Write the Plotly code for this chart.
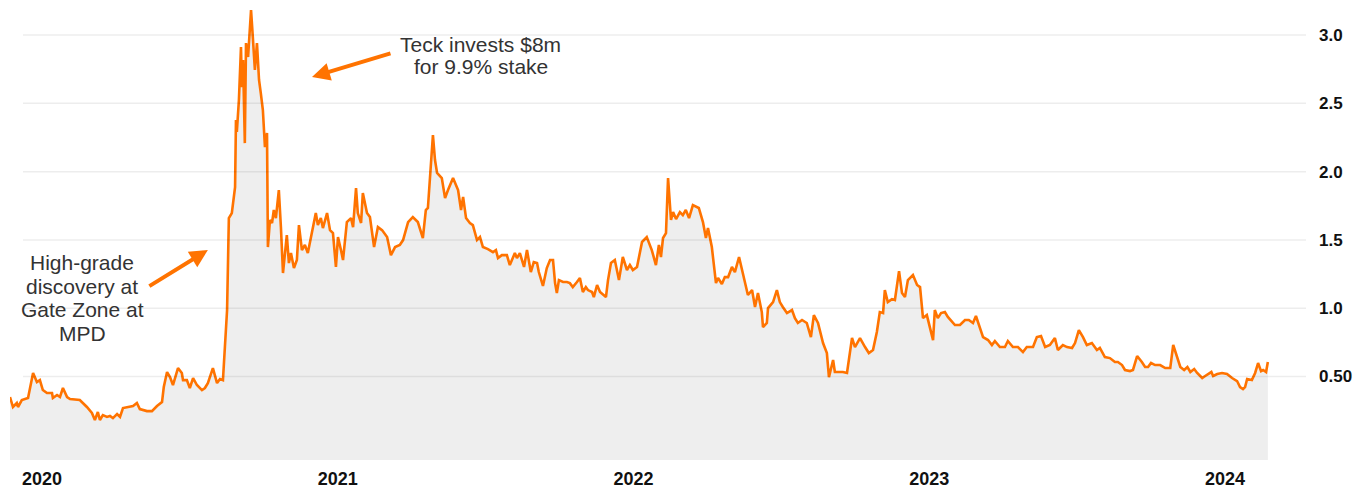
import pandas as pd
import plotly.graph_objects as go

# share price (decimal year, price)
year_pos = [
    2019.892, 2019.902, 2019.915, 2019.919, 2019.932, 2019.953, 2019.970, 2019.983, 2019.993, 2020.003,
    2020.017, 2020.034, 2020.037, 2020.051, 2020.061, 2020.071, 2020.085, 2020.095, 2020.128, 2020.152,
    2020.169, 2020.179, 2020.189, 2020.196, 2020.206, 2020.220, 2020.230, 2020.240, 2020.254, 2020.264,
    2020.274, 2020.291, 2020.308, 2020.321, 2020.331, 2020.355, 2020.372, 2020.389, 2020.406, 2020.412,
    2020.423, 2020.433, 2020.443, 2020.460, 2020.473, 2020.477, 2020.490, 2020.500, 2020.511, 2020.524,
    2020.541, 2020.551, 2020.561, 2020.578, 2020.592, 2020.602, 2020.612, 2020.626, 2020.629, 2020.632,
    2020.642, 2020.653, 2020.656, 2020.659, 2020.666, 2020.673, 2020.676, 2020.680, 2020.686, 2020.690,
    2020.697, 2020.707, 2020.713, 2020.720, 2020.727, 2020.734, 2020.740, 2020.747, 2020.754, 2020.761,
    2020.764, 2020.771, 2020.778, 2020.784, 2020.791, 2020.801, 2020.808, 2020.815, 2020.828, 2020.835,
    2020.842, 2020.852, 2020.862, 2020.869, 2020.879, 2020.889, 2020.899, 2020.916, 2020.926, 2020.933,
    2020.943, 2020.950, 2020.964, 2020.974, 2020.984, 2020.994, 2021.001, 2021.011, 2021.018, 2021.031,
    2021.045, 2021.052, 2021.062, 2021.068, 2021.079, 2021.085, 2021.099, 2021.109, 2021.116, 2021.123,
    2021.136, 2021.150, 2021.167, 2021.180, 2021.194, 2021.210, 2021.221, 2021.238, 2021.254, 2021.271,
    2021.288, 2021.298, 2021.305, 2021.312, 2021.322, 2021.329, 2021.336, 2021.352, 2021.363, 2021.373,
    2021.390, 2021.407, 2021.417, 2021.424, 2021.434, 2021.447, 2021.457, 2021.471, 2021.481, 2021.491,
    2021.508, 2021.525, 2021.535, 2021.542, 2021.555, 2021.572, 2021.582, 2021.599, 2021.606, 2021.616,
    2021.630, 2021.640, 2021.653, 2021.663, 2021.674, 2021.680, 2021.694, 2021.707, 2021.718, 2021.728,
    2021.735, 2021.741, 2021.748, 2021.762, 2021.775, 2021.785, 2021.795, 2021.809, 2021.819, 2021.829,
    2021.839, 2021.846, 2021.860, 2021.866, 2021.877, 2021.887, 2021.897, 2021.907, 2021.914, 2021.924,
    2021.937, 2021.951, 2021.964, 2021.978, 2021.988, 2021.998, 2022.012, 2022.029, 2022.045, 2022.062,
    2022.076, 2022.086, 2022.093, 2022.100, 2022.110, 2022.117, 2022.127, 2022.134, 2022.144, 2022.157,
    2022.167, 2022.177, 2022.188, 2022.201, 2022.221, 2022.235, 2022.245, 2022.252, 2022.265, 2022.279,
    2022.286, 2022.299, 2022.309, 2022.320, 2022.333, 2022.343, 2022.357, 2022.370, 2022.377, 2022.387,
    2022.401, 2022.411, 2022.421, 2022.434, 2022.438, 2022.451, 2022.455, 2022.472, 2022.485, 2022.495,
    2022.505, 2022.519, 2022.536, 2022.546, 2022.556, 2022.570, 2022.586, 2022.600, 2022.610, 2022.624,
    2022.641, 2022.654, 2022.661, 2022.675, 2022.681, 2022.698, 2022.708, 2022.722, 2022.739, 2022.749,
    2022.766, 2022.783, 2022.796, 2022.810, 2022.823, 2022.833, 2022.844, 2022.850, 2022.860, 2022.874,
    2022.884, 2022.898, 2022.908, 2022.918, 2022.928, 2022.945, 2022.959, 2022.969, 2022.979, 2022.992,
    2023.003, 2023.013, 2023.019, 2023.029, 2023.040, 2023.053, 2023.063, 2023.077, 2023.087, 2023.104,
    2023.121, 2023.134, 2023.148, 2023.158, 2023.172, 2023.182, 2023.199, 2023.212, 2023.222, 2023.239,
    2023.256, 2023.266, 2023.283, 2023.300, 2023.317, 2023.330, 2023.351, 2023.364, 2023.378, 2023.392,
    2023.408, 2023.425, 2023.435, 2023.452, 2023.466, 2023.483, 2023.493, 2023.506, 2023.520, 2023.533,
    2023.550, 2023.567, 2023.577, 2023.594, 2023.611, 2023.628, 2023.638, 2023.652, 2023.662, 2023.679,
    2023.689, 2023.703, 2023.719, 2023.730, 2023.740, 2023.750, 2023.764, 2023.781, 2023.798, 2023.815,
    2023.825, 2023.839, 2023.849, 2023.862, 2023.873, 2023.883, 2023.896, 2023.906, 2023.923, 2023.933,
    2023.943, 2023.954, 2023.960, 2023.974, 2023.990, 2024.007, 2024.024, 2024.041, 2024.051, 2024.061,
    2024.068, 2024.075, 2024.091, 2024.102, 2024.112, 2024.122, 2024.129, 2024.139, 2024.145,
]
price = [
    0.350, 0.277, 0.306, 0.277, 0.328, 0.343, 0.526, 0.460, 0.474, 0.401,
    0.379, 0.379, 0.343, 0.365, 0.350, 0.416, 0.350, 0.335, 0.328, 0.277,
    0.233, 0.182, 0.240, 0.182, 0.218, 0.204, 0.211, 0.196, 0.225, 0.204,
    0.269, 0.277, 0.284, 0.306, 0.262, 0.247, 0.247, 0.284, 0.313, 0.423,
    0.533, 0.496, 0.438, 0.562, 0.526, 0.474, 0.474, 0.416, 0.489, 0.438,
    0.401, 0.416, 0.452, 0.562, 0.452, 0.482, 0.474, 0.987, 1.477, 1.660,
    1.697, 1.887, 2.378, 2.290, 2.524, 2.912, 2.619, 2.817, 2.209, 2.941,
    2.839, 3.183, 2.985, 2.744, 2.941, 2.671, 2.575, 2.451, 2.180, 2.283,
    1.448, 1.646, 1.624, 1.719, 1.660, 1.865, 1.594, 1.258, 1.536, 1.331,
    1.404, 1.294, 1.353, 1.609, 1.426, 1.463, 1.404, 1.594, 1.697, 1.609,
    1.660, 1.587, 1.697, 1.572, 1.550, 1.302, 1.521, 1.426, 1.353, 1.631,
    1.660, 1.594, 1.880, 1.697, 1.624, 1.843, 1.697, 1.668, 1.550, 1.448,
    1.594, 1.572, 1.521, 1.389, 1.448, 1.463, 1.499, 1.631, 1.668, 1.631,
    1.514, 1.719, 1.734, 1.939, 2.268, 2.085, 1.990, 1.953, 1.807, 1.865,
    1.953, 1.865, 1.719, 1.814, 1.660, 1.624, 1.609, 1.499, 1.521, 1.448,
    1.433, 1.411, 1.426, 1.367, 1.389, 1.389, 1.316, 1.404, 1.367, 1.404,
    1.302, 1.426, 1.265, 1.338, 1.331, 1.265, 1.163, 1.294, 1.353, 1.353,
    1.184, 1.111, 1.206, 1.192, 1.192, 1.184, 1.155, 1.192, 1.221, 1.119,
    1.155, 1.133, 1.119, 1.082, 1.170, 1.119, 1.097, 1.082, 1.206, 1.331,
    1.353, 1.206, 1.375, 1.280, 1.316, 1.280, 1.302, 1.485, 1.521, 1.426,
    1.316, 1.463, 1.375, 1.514, 1.550, 1.953, 1.646, 1.704, 1.653, 1.704,
    1.682, 1.719, 1.660, 1.755, 1.734, 1.631, 1.514, 1.587, 1.448, 1.184,
    1.221, 1.177, 1.228, 1.228, 1.302, 1.265, 1.375, 1.258, 1.192, 1.097,
    1.133, 1.009, 1.111, 0.972, 0.862, 0.892, 1.001, 1.045, 1.133, 1.045,
    1.009, 0.965, 0.987, 0.928, 0.892, 0.914, 0.892, 0.789, 0.950, 0.892,
    0.745, 0.672, 0.496, 0.621, 0.533, 0.533, 0.533, 0.526, 0.782, 0.716,
    0.782, 0.716, 0.672, 0.694, 0.826, 0.972, 0.965, 1.133, 1.045, 1.067,
    1.060, 1.272, 1.111, 1.082, 1.206, 1.243, 1.170, 1.155, 0.928, 0.950,
    0.855, 0.767, 0.987, 0.928, 0.965, 0.972, 0.936, 0.899, 0.877, 0.877,
    0.914, 0.914, 0.892, 0.943, 0.855, 0.789, 0.767, 0.731, 0.760, 0.716,
    0.716, 0.760, 0.716, 0.716, 0.679, 0.716, 0.716, 0.789, 0.796, 0.716,
    0.731, 0.782, 0.694, 0.731, 0.716, 0.709, 0.745, 0.840, 0.789, 0.731,
    0.745, 0.694, 0.709, 0.643, 0.635, 0.606, 0.606, 0.584, 0.548, 0.540,
    0.548, 0.650, 0.606, 0.570, 0.570, 0.599, 0.584, 0.584, 0.562, 0.562,
    0.731, 0.635, 0.570, 0.548, 0.570, 0.533, 0.555, 0.526, 0.489, 0.504,
    0.518, 0.533, 0.504, 0.518, 0.526, 0.518, 0.489, 0.467, 0.423, 0.408,
    0.423, 0.482, 0.474, 0.526, 0.599, 0.540, 0.548, 0.533, 0.606,
]

year_ticks = [2020, 2021, 2022, 2023, 2024]
price_ticks = [0.5, 1.0, 1.5, 2.0, 2.5, 3.0]
price_labels = ["0.50", "1.0", "1.5", "2.0", "2.5", "3.0"]

ORANGE = "#ff7300"
FONT = "Liberation Sans, Arial, sans-serif"
Y_MIN, Y_MAX = -0.111, 3.22


def to_date(y):
    return pd.Timestamp("2020-01-01") + pd.Timedelta(days=(y - 2020) * 365.25)


dates = [to_date(y) for y in year_pos]

fig = go.Figure()
# invisible baseline at the bottom of the axis so the area reaches the bottom
fig.add_trace(
    go.Scatter(
        x=dates, y=[Y_MIN] * len(dates), mode="lines",
        line=dict(width=0), hoverinfo="skip",
    )
)
fig.add_trace(
    go.Scatter(
        x=dates,
        y=price,
        mode="lines",
        line=dict(color=ORANGE, width=2.6),
        fill="tonexty",
        fillcolor="#eeeeee",
        hoverinfo="x+y",
    )
)

# gridlines drawn as shapes so they start a little inside the plot
for v in price_ticks:
    fig.add_shape(
        type="line", xref="paper", yref="y",
        x0=0.01, x1=1, y0=v, y1=v,
        line=dict(color="rgba(0,0,0,0.07)", width=1.5),
        layer="above",
    )

# arrows
fig.add_annotation(
    x=to_date(2020.561), y=1.426, text="", showarrow=True,
    ax=-60, ay=37, arrowhead=2, arrowsize=0.9, arrowwidth=4, arrowcolor=ORANGE,
)
fig.add_annotation(
    x=to_date(2020.913), y=2.693, text="", showarrow=True,
    ax=80, ay=-24, arrowhead=2, arrowsize=0.9, arrowwidth=4, arrowcolor=ORANGE,
)

# annotation text, one line per label so the line spacing stays tight
left_lines = ["High-grade", "discovery at", "Gate Zone at", "MPD"]
left_y = [0.435, 0.382, 0.330, 0.277]
for txt, yy in zip(left_lines, left_y):
    fig.add_annotation(
        xref="paper", yref="paper", x=0.0556, y=yy, text=txt,
        showarrow=False, xanchor="center", yanchor="middle",
        font=dict(family=FONT, size=21, color="#333333"),
    )

top_lines = ["Teck invests $8m", "for 9.9% stake"]
top_y = [0.914, 0.864]
for txt, yy in zip(top_lines, top_y):
    fig.add_annotation(
        xref="paper", yref="paper", x=0.3634, y=yy, text=txt,
        showarrow=False, xanchor="center", yanchor="middle",
        font=dict(family=FONT, size=21, color="#333333"),
    )

fig.update_layout(
    width=1366,
    height=494,
    margin=dict(l=10, r=60, t=5, b=34),
    paper_bgcolor="white",
    plot_bgcolor="white",
    showlegend=False,
    xaxis=dict(
        range=[to_date(2019.892), to_date(2024.274)],
        tickvals=[to_date(y) for y in year_ticks],
        ticktext=[str(y) for y in year_ticks],
        showgrid=False,
        zeroline=False,
        showline=False,
        ticks="",
        ticklabelstandoff=6,
        tickfont=dict(family=FONT, size=18, color="#111111", weight="bold"),
    ),
    yaxis=dict(
        range=[Y_MIN, Y_MAX],
        side="right",
        tickvals=price_ticks,
        ticktext=price_labels,
        showgrid=False,
        zeroline=False,
        showline=False,
        ticks="",
        ticklabelstandoff=12,
        tickfont=dict(family=FONT, size=17, color="#111111", weight="bold"),
    ),
)

fig.write_html(
    "out.html",
    config={"displayModeBar": False},
    post_script="document.body.style.margin='0';",
)
